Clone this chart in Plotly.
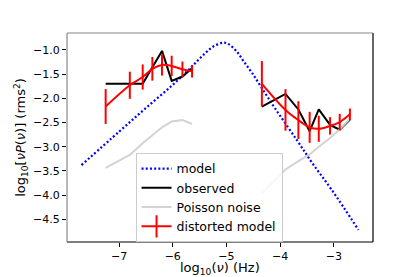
import plotly.graph_objects as go

# ---- data ----
model_x = [-7.70, -7.00, -6.50, -6.00, -5.64, -5.40, -5.23, -5.06, -4.96, -4.81,
           -4.67, -4.52, -4.34, -4.10, -3.69, -3.40, -3.04, -2.54]
model_y = [-3.38, -2.69, -2.20, -1.72, -1.34, -1.07, -0.92, -0.85, -0.88, -1.03,
           -1.25, -1.48, -1.79, -2.20, -2.86, -3.34, -3.89, -4.72]

left_x = [-7.25, -6.80, -6.56, -6.38, -6.20, -6.02, -5.82, -5.64]
right_x = [-4.34, -3.90, -3.66, -3.45, -3.28, -3.07, -2.89, -2.70]

obs_left = [-1.70, -1.70, -1.70, -1.36, -1.02, -1.64, -1.55, -1.38]
obs_right = [-2.17, -1.91, -2.23, -2.68, -2.23, -2.55, -2.65, -2.44]

noise_left = [-3.44, -3.17, -2.93, -2.76, -2.60, -2.48, -2.45, -2.53]
noise_right = [-3.97, -3.47, -3.30, -3.16, -3.00, -2.82, -2.64, -2.42]

dist_left = [-2.17, -1.73, -1.56, -1.39, -1.31, -1.33, -1.40, -1.44]
dist_right = [-1.70, -2.24, -2.45, -2.60, -2.63, -2.57, -2.49, -2.33]
err_left = [0.36, 0.28, 0.26, 0.245, 0.22, 0.21, 0.16, 0.13]
err_right = [0.47, 0.43, 0.39, 0.32, 0.27, 0.18, 0.17, 0.12]

x_ticks = [-7, -6, -5, -4, -3]
y_ticks = [-1.0, -1.5, -2.0, -2.5, -3.0, -3.5, -4.0, -4.5]

x_title = "log<sub>10</sub>(<i>ν</i>) (Hz)"
y_title = "log<sub>10</sub>[<i>νP</i>(<i>ν</i>)] (rms<sup>2</sup>)"

# ---- build figure ----
xs = left_x + [None] + right_x


def join(a, b):
    return a + [None] + b


fig = go.Figure()
fig.add_trace(go.Scatter(
    x=model_x, y=model_y, mode="lines", name="model", line_shape="spline",
    line=dict(color="#0000ff", width=2.2, dash="2px,2.2px")))
fig.add_trace(go.Scatter(
    x=xs, y=join(obs_left, obs_right), mode="lines", name="observed",
    line=dict(color="black", width=2)))
fig.add_trace(go.Scatter(
    x=xs, y=join(noise_left, noise_right), mode="lines", name="Poisson noise",
    line=dict(color="#d3d3d3", width=2)))
fig.add_trace(go.Scatter(
    x=xs, y=join(dist_left, dist_right), mode="lines", name="distorted model",
    showlegend=False,
    line=dict(color="red", width=2), line_shape="spline",
    error_y=dict(type="data", array=join(err_left, err_right), color="red",
                 thickness=2, width=0)))
# legend entry for distorted model (line with vertical error bar)
fig.add_trace(go.Scatter(
    x=[None], y=[None], mode="lines+markers", name="distorted model",
    line=dict(color="red", width=2),
    marker=dict(symbol="line-ns", size=16, color="red",
                line=dict(color="red", width=2))))

tick_font = dict(family="DejaVu Sans", size=11, color="black")
label_font = dict(family="DejaVu Sans", size=13, color="black")
# the page body adds an 8px offset, so the figure is 8px smaller on left/top
fig.update_layout(
    width=407, height=269,
    margin=dict(l=44, r=42, t=25, b=35),
    paper_bgcolor="white", plot_bgcolor="white",
    font=tick_font,
    showlegend=True,
    legend=dict(x=0.224, y=0.426, xanchor="left", yanchor="top",
                bgcolor="rgba(255,255,255,0.8)", bordercolor="#cccccc",
                borderwidth=1, font=dict(family="DejaVu Sans", size=12.5,
                                         color="black"),
                tracegroupgap=0, itemwidth=30),
    xaxis=dict(range=[-7.97, -2.27], tickvals=x_ticks, ticks="outside",
               ticklen=4, tickcolor="black", showgrid=False, zeroline=False,
               showline=False, tickfont=tick_font),
    yaxis=dict(range=[-4.97, -0.65], tickvals=y_ticks, tickformat=".1f",
               ticks="outside", ticklen=4, tickcolor="black", showgrid=False,
               zeroline=False, showline=False, tickfont=tick_font,
               title=dict(text=y_title, standoff=4, font=label_font)),
)

fig.add_annotation(text=x_title, xref="x domain", yref="paper",
                   x=0.5, y=-0.125, xanchor="center", yanchor="middle",
                   showarrow=False, font=label_font)

# axes frame
frame = [
    (0, 0, 1, 0, "black"),
    (1, 0, 1, 1, "black"),
    (0, 1, 1, 1, "#888888"),
    (0, 0, 0, 1, "#888888"),
]
for x0, y0, x1, y1, c in frame:
    fig.add_shape(type="line", xref="x domain", yref="y domain",
                  x0=x0, y0=y0, x1=x1, y1=y1, line=dict(color=c, width=1.2))

fig.write_html("out.html")
